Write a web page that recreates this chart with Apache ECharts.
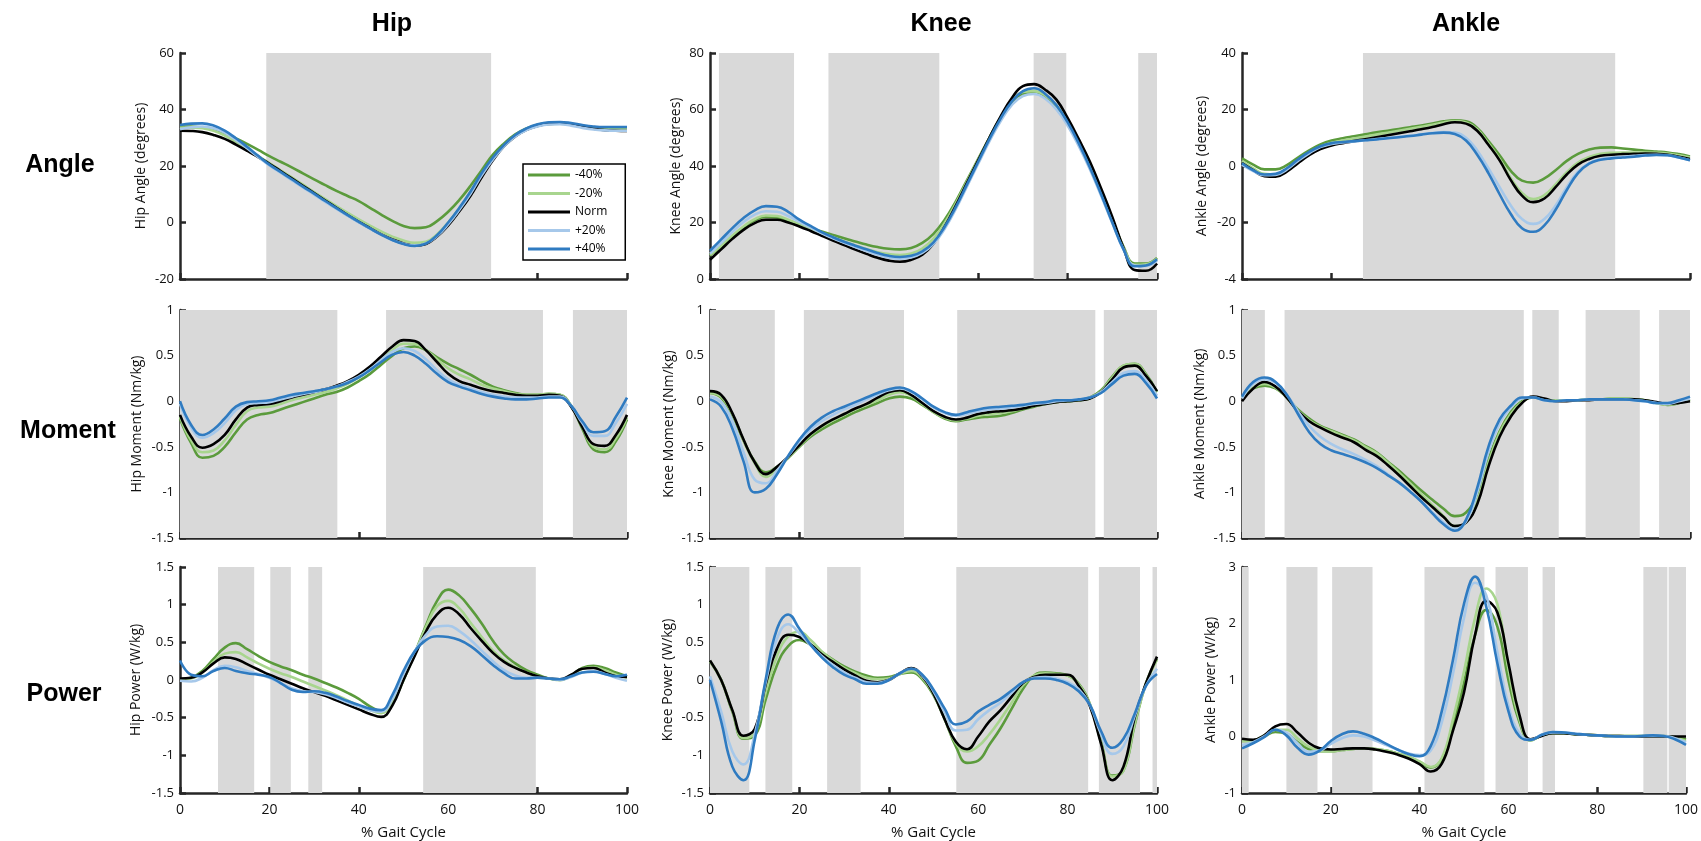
<!DOCTYPE html>
<html><head><meta charset="utf-8">
<script src="https://cdn.jsdelivr.net/npm/echarts@6/dist/echarts.min.js"></script>
<style>html,body{margin:0;padding:0;background:#fff}#c{width:1701px;height:841px}</style>
</head><body><div id="c"></div>
<script>
// % gait cycle sample points
const gait = [0,2.5,5,7.5,10,12.5,15,17.5,20,22.5,25,27.5,30,32.5,35,37.5,40,42.5,45,47.5,50,52.5,55,57.5,60,62.5,65,67.5,70,72.5,75,77.5,80,82.5,85,87.5,90,92.5,95,97.5,100];
const seriesNames = ['-40%','-20%','Norm','+20%','+40%'];
const columnTitles = ['Hip','Knee','Ankle'];
const rowTitles = ['Angle','Moment','Power'];
const xTicks = [0,20,40,60,80,100];

// Hip angle
const hipAngleM40 = [34,34,33.6,32.8,31.5,29.8,27.8,25.7,23.5,21.5,19.5,17.4,15.3,13.2,11.2,9.4,7.6,5.2,2.8,0.6,-1.2,-2,-1.7,0.5,3.8,8,13,18.5,24,28,31.2,33.3,34.6,35.2,35.3,34.8,34,33.4,33.1,33,33];
const hipAngleM20 = [33.5,33.6,33.4,32.5,30.8,28.5,26,23.5,21,18.5,16,13.4,10.8,8.3,5.8,3.4,1.1,-1.1,-3.2,-5,-6.4,-7.2,-6.8,-4.2,0,5,10.8,17,22.6,27.3,30.7,32.9,34.2,34.9,35,34.6,33.9,33.3,33,32.9,32.9];
const hipAngleNorm = [32.5,32.4,32,31,29.6,27.6,25.4,23.1,20.8,18.2,15.6,13,10.4,7.8,5.2,2.6,0.2,-2,-4.2,-6,-7.4,-8.2,-7.6,-5,-1,4,9.5,16,22,27,30.5,32.8,34.2,34.9,35.1,34.7,34,33.2,32.7,32.5,32.4];
const hipAngleP20 = [33,33.7,34,33.4,31.8,29.2,26.3,23.2,20.2,17.6,15,12.4,9.9,7.3,4.8,2.4,0,-2.2,-4.3,-6.2,-7.5,-8.1,-7.4,-4.8,-0.6,4.5,10.2,16.7,22.3,27,30.5,32.7,34,34.7,34.8,34.3,33.5,32.9,32.6,32.5,32.5];
const hipAngleP40 = [34.5,35,35.1,34.3,32.5,29.8,26.8,23.6,20.5,17.9,15.3,12.7,10.2,7.6,5.1,2.6,0.2,-2.1,-4.3,-6.2,-7.6,-8.3,-7.5,-4.5,0,5.2,11,17.5,23,27.5,31,33.3,34.8,35.5,35.6,35.2,34.5,34,33.8,33.8,33.8];
const hipAngleShade = [[19.3,69.6]];

// Knee angle
const kneeAngleM40 = [8.3,11.5,15,18.2,20.8,22,21.8,20.6,19.3,18,16.8,15.6,14.4,13.3,12.2,11.3,10.7,10.5,11,12.8,16,21,27.5,35,42.5,50,57,62.5,65.5,66,64.5,61,55.5,48.5,40.5,31,21,11.5,5.5,5.5,7.5];
const kneeAngleM20 = [8.5,11.8,15.4,18.6,21.2,22.5,22.3,21,19.4,17.9,16.3,14.8,13.3,11.9,10.6,9.5,8.8,8.5,9,10.8,14.3,19.8,26.8,34.5,42.3,50,57.2,63,66.2,66.5,65,61.5,56,48.8,40.6,31,21,11.2,5,5.2,7.2];
const kneeAngleNorm = [6.8,10.5,14.2,17.4,19.8,21,21,20,18.6,17,15.3,13.6,12,10.4,8.9,7.5,6.5,6.1,6.8,8.6,12.5,18.5,26,34,42,50,57.5,64,68.3,69,67,63.5,57,49.5,41.5,32,22,11,3.2,2.9,5.5];
const kneeAngleP20 = [9,12.8,16.7,20.2,22.8,24,23.8,22.3,20.2,18.2,16.2,14.4,12.8,11.3,9.9,8.6,7.6,7.2,7.6,9.2,12.4,17.8,24.8,32.8,40.8,48.7,55.8,61.5,64.8,65.5,63.8,60,54.3,47,38.8,29.5,19.8,10.6,4.8,4.6,6.5];
const kneeAngleP40 = [10,14,18,21.6,24.3,25.8,25.6,23.8,21,18.8,16.6,14.8,13.2,11.8,10.5,9.2,8.2,7.8,8.2,9.8,13,18.5,25.5,33.5,41.5,49.5,56.8,62.8,66.5,67.5,65.5,61.5,55.5,48,39.5,30,20,10.5,4.5,4.8,7];
const kneeAngleShade = [[2.0,18.8],[26.5,51.3],[72.4,79.7],[95.8,100]];

// Ankle angle
const ankleAngleM40 = [2.7,0.5,-1.2,-1.2,0.3,3,5.5,7.6,9,9.8,10.5,11.2,11.9,12.5,13.1,13.7,14.3,15,15.8,16.2,15.8,13.5,8.8,3.8,-1.7,-5.2,-5.9,-4.4,-1.5,1.8,4.3,5.8,6.5,6.6,6.2,5.8,5.4,5.1,4.8,4.2,3.4];
const ankleAngleM20 = [1.8,-0.8,-2.8,-3,-1.2,1.8,4.5,6.8,8.2,9,9.7,10.4,11.1,11.8,12.5,13.2,13.9,14.6,15.4,15.9,15.4,13,8,2.5,-4.3,-9.5,-11.7,-10.3,-6.5,-2.2,1.2,3.2,4.3,4.7,4.8,4.8,4.8,4.7,4.4,3.8,3];
const ankleAngleNorm = [1,-1.5,-3.6,-3.8,-2,1,3.8,6,7.3,8.1,8.8,9.5,10.2,10.9,11.6,12.3,13,13.8,14.8,15.5,15,12.5,7.5,2,-5,-10.5,-12.8,-11.5,-7.5,-3,0.5,2.5,3.6,4,4.2,4.3,4.4,4.3,4,3.3,2.5];
const ankleAngleP20 = [0.5,-1.8,-3.3,-3.2,-1.3,1.8,4.5,6.7,7.8,8.3,8.7,9.1,9.5,9.9,10.3,10.7,11.2,11.7,12,11.8,10,5.5,-0.8,-7.5,-14,-18.8,-20.5,-18.8,-14,-7.5,-2,1,2.4,3,3.3,3.6,3.9,4,3.8,3,2];
const ankleAngleP40 = [1,-1.5,-3,-2.8,-0.8,2.3,5,7,8.1,8.5,8.8,9.1,9.4,9.8,10.2,10.6,11.1,11.6,11.8,11.3,9,4,-2.5,-10,-17,-22,-23.3,-21,-15.5,-8.5,-2.5,0.8,2.2,2.7,3,3.3,3.7,3.9,3.8,3,2];
const ankleAngleShade = [[27.0,83.3]];

// Hip moment
const hipMomentM40 = [-0.19,-0.46,-0.62,-0.6,-0.5,-0.34,-0.2,-0.15,-0.13,-0.09,-0.05,-0.01,0.03,0.07,0.1,0.15,0.22,0.3,0.4,0.5,0.58,0.6,0.56,0.48,0.41,0.35,0.29,0.22,0.16,0.12,0.09,0.07,0.07,0.08,0.07,-0.05,-0.3,-0.53,-0.56,-0.44,-0.2];
const hipMomentM20 = [-0.17,-0.43,-0.56,-0.54,-0.43,-0.26,-0.11,-0.07,-0.06,-0.03,0.01,0.04,0.07,0.1,0.14,0.19,0.26,0.35,0.45,0.56,0.63,0.63,0.56,0.46,0.36,0.29,0.24,0.18,0.14,0.11,0.08,0.07,0.07,0.08,0.07,-0.05,-0.28,-0.5,-0.53,-0.41,-0.18];
const hipMomentNorm = [-0.15,-0.39,-0.51,-0.47,-0.37,-0.2,-0.07,-0.04,-0.03,0,0.04,0.07,0.1,0.13,0.17,0.22,0.29,0.38,0.49,0.6,0.67,0.66,0.56,0.43,0.3,0.22,0.18,0.14,0.11,0.09,0.07,0.06,0.06,0.07,0.06,-0.06,-0.28,-0.47,-0.49,-0.37,-0.15];
const hipMomentP20 = [-0.03,-0.29,-0.4,-0.35,-0.24,-0.1,-0.03,-0.02,-0.01,0.02,0.05,0.08,0.1,0.13,0.16,0.21,0.27,0.35,0.45,0.54,0.58,0.55,0.46,0.34,0.24,0.18,0.14,0.1,0.07,0.05,0.04,0.04,0.04,0.05,0.05,-0.05,-0.24,-0.38,-0.38,-0.24,-0.03];
const hipMomentP40 = [0,-0.26,-0.37,-0.31,-0.19,-0.06,-0.01,0,0.01,0.04,0.07,0.09,0.11,0.13,0.16,0.2,0.26,0.34,0.43,0.51,0.54,0.5,0.41,0.3,0.21,0.16,0.12,0.08,0.05,0.03,0.02,0.02,0.03,0.04,0.04,-0.05,-0.22,-0.34,-0.33,-0.17,0.04];
const hipMomentShade = [[0,35.2],[46.1,81.2],[87.9,100]];

// Knee moment
const kneeMomentM40 = [0.09,0.04,-0.15,-0.43,-0.66,-0.78,-0.72,-0.62,-0.5,-0.39,-0.31,-0.24,-0.18,-0.12,-0.07,-0.02,0.03,0.05,0.03,-0.04,-0.12,-0.19,-0.22,-0.2,-0.18,-0.17,-0.16,-0.13,-0.09,-0.06,-0.03,-0.01,0,0.01,0.04,0.12,0.27,0.39,0.41,0.3,0.1];
const kneeMomentM20 = [0.09,0.05,-0.14,-0.43,-0.68,-0.83,-0.74,-0.62,-0.49,-0.37,-0.28,-0.21,-0.15,-0.09,-0.04,0.01,0.07,0.1,0.06,-0.03,-0.12,-0.18,-0.21,-0.19,-0.16,-0.14,-0.13,-0.11,-0.08,-0.05,-0.03,-0.01,0,0.01,0.03,0.11,0.26,0.39,0.41,0.29,0.1];
const kneeMomentNorm = [0.11,0.07,-0.13,-0.42,-0.67,-0.8,-0.72,-0.61,-0.48,-0.36,-0.27,-0.2,-0.14,-0.08,-0.03,0.04,0.1,0.12,0.07,-0.02,-0.11,-0.17,-0.2,-0.18,-0.14,-0.12,-0.11,-0.1,-0.08,-0.05,-0.03,-0.01,0,0.01,0.03,0.1,0.24,0.37,0.39,0.28,0.11];
const kneeMomentP20 = [0.05,-0.01,-0.22,-0.56,-0.86,-0.9,-0.76,-0.6,-0.44,-0.31,-0.22,-0.15,-0.09,-0.04,0.02,0.07,0.12,0.14,0.1,0.02,-0.07,-0.13,-0.16,-0.14,-0.11,-0.09,-0.08,-0.07,-0.05,-0.03,-0.02,0,0.01,0.02,0.04,0.1,0.21,0.31,0.33,0.23,0.06];
const kneeMomentP40 = [0.02,-0.06,-0.3,-0.66,-1,-0.96,-0.8,-0.6,-0.42,-0.28,-0.18,-0.11,-0.06,-0.01,0.04,0.09,0.13,0.15,0.11,0.03,-0.06,-0.12,-0.15,-0.12,-0.09,-0.07,-0.06,-0.05,-0.04,-0.02,-0.01,0.01,0.01,0.02,0.04,0.09,0.19,0.28,0.3,0.2,0.03];
const kneeMomentShade = [[0,14.5],[21.0,43.4],[55.3,86.2],[88.1,100]];

// Ankle moment
const ankleMomentM40 = [0.05,0.14,0.17,0.14,0.04,-0.09,-0.19,-0.27,-0.32,-0.37,-0.42,-0.49,-0.56,-0.66,-0.76,-0.87,-0.98,-1.08,-1.18,-1.26,-1.22,-1.02,-0.64,-0.33,-0.12,0,0.04,0.02,0.01,0.01,0.01,0.02,0.02,0.03,0.03,0.02,0.01,-0.02,-0.04,-0.02,0.02];
const ankleMomentM20 = [0.04,0.15,0.19,0.15,0.04,-0.1,-0.21,-0.28,-0.33,-0.38,-0.43,-0.5,-0.57,-0.67,-0.78,-0.9,-1.02,-1.14,-1.26,-1.37,-1.33,-1.1,-0.68,-0.35,-0.14,-0.01,0.04,0.02,0.01,0.01,0.01,0.02,0.02,0.03,0.03,0.02,0.01,-0.02,-0.04,-0.02,0.01];
const ankleMomentNorm = [0,0.14,0.21,0.16,0.04,-0.11,-0.22,-0.29,-0.35,-0.4,-0.45,-0.53,-0.6,-0.7,-0.81,-0.93,-1.05,-1.16,-1.27,-1.37,-1.33,-1.13,-0.72,-0.39,-0.17,-0.02,0.05,0.03,0,0,0.01,0.01,0.02,0.02,0.02,0.02,0.01,-0.01,-0.03,-0.02,0];
const ankleMomentP20 = [0.03,0.19,0.24,0.2,0.07,-0.11,-0.27,-0.39,-0.47,-0.53,-0.58,-0.64,-0.71,-0.8,-0.89,-0.99,-1.1,-1.22,-1.33,-1.4,-1.32,-1,-0.56,-0.24,-0.07,0.03,0.04,0.01,0,0.01,0.01,0.02,0.02,0.02,0.02,0.01,0,-0.02,-0.03,0,0.03];
const ankleMomentP40 = [0.05,0.21,0.26,0.21,0.07,-0.14,-0.34,-0.47,-0.54,-0.58,-0.62,-0.67,-0.73,-0.81,-0.89,-0.99,-1.1,-1.23,-1.35,-1.42,-1.3,-0.95,-0.5,-0.2,-0.05,0.04,0.04,0.01,0,0.01,0.01,0.02,0.02,0.02,0.02,0.01,0,-0.02,-0.02,0.01,0.05];
const ankleMomentShade = [[0,5.1],[9.5,62.9],[64.8,70.7],[76.7,88.8],[93.1,100]];

// Hip power
const hipPowerM40 = [0,0.03,0.12,0.28,0.43,0.49,0.41,0.32,0.24,0.18,0.13,0.07,0.02,-0.04,-0.1,-0.17,-0.25,-0.35,-0.41,-0.3,0,0.35,0.72,1.05,1.2,1.12,0.95,0.75,0.52,0.34,0.22,0.13,0.07,0.02,0,0.06,0.16,0.19,0.16,0.1,0.05];
const hipPowerM20 = [0.01,0.02,0.1,0.24,0.35,0.37,0.3,0.22,0.15,0.09,0.04,-0.02,-0.08,-0.14,-0.2,-0.27,-0.34,-0.4,-0.44,-0.3,0,0.34,0.7,0.98,1.05,0.95,0.76,0.57,0.39,0.26,0.17,0.1,0.05,0.02,0,0.06,0.15,0.17,0.13,0.07,0.03];
const hipPowerNorm = [0.02,0.03,0.1,0.22,0.3,0.28,0.21,0.14,0.07,0.01,-0.05,-0.11,-0.16,-0.21,-0.27,-0.33,-0.39,-0.45,-0.49,-0.34,0,0.32,0.64,0.87,0.96,0.87,0.69,0.52,0.36,0.24,0.16,0.1,0.05,0.02,0.01,0.07,0.15,0.16,0.1,0.05,0.04];
const hipPowerP20 = [-0.01,-0.02,0.03,0.13,0.19,0.17,0.12,0.08,0.03,-0.04,-0.11,-0.15,-0.16,-0.19,-0.24,-0.3,-0.35,-0.4,-0.42,-0.25,0.08,0.38,0.6,0.71,0.72,0.65,0.53,0.39,0.25,0.13,0.06,0.03,0.03,0.02,0,0.04,0.1,0.12,0.08,0.03,-0.01];
const hipPowerP40 = [0.26,0.07,0.05,0.12,0.16,0.12,0.09,0.07,0.04,-0.04,-0.13,-0.16,-0.15,-0.17,-0.22,-0.28,-0.33,-0.38,-0.4,-0.2,0.12,0.38,0.53,0.58,0.57,0.53,0.45,0.33,0.2,0.09,0.02,0.02,0.03,0.02,0.01,0.05,0.1,0.11,0.08,0.05,0.07];
const hipPowerShade = [[8.5,16.6],[20.2,24.8],[28.7,31.8],[54.4,79.6]];

// Knee power
const kneePowerM40 = [0.25,0,-0.42,-0.78,-0.74,-0.25,0.2,0.45,0.53,0.47,0.37,0.27,0.18,0.11,0.06,0.03,0.04,0.08,0.1,0.01,-0.2,-0.52,-0.88,-1.1,-1.07,-0.86,-0.64,-0.38,-0.12,0.06,0.1,0.09,0.06,-0.05,-0.32,-0.82,-1.27,-1.2,-0.6,-0.05,0.28];
const kneePowerM20 = [0.25,0,-0.41,-0.77,-0.7,-0.15,0.32,0.58,0.64,0.53,0.38,0.26,0.16,0.09,0.03,0.01,0.02,0.08,0.12,0.03,-0.19,-0.52,-0.84,-0.95,-0.88,-0.72,-0.52,-0.3,-0.07,0.06,0.09,0.08,0.06,-0.06,-0.33,-0.83,-1.28,-1.2,-0.58,-0.06,0.27];
const kneePowerNorm = [0.26,0,-0.4,-0.74,-0.65,-0.05,0.42,0.6,0.57,0.47,0.34,0.24,0.14,0.06,-0.01,-0.03,0,0.09,0.16,0.05,-0.18,-0.52,-0.82,-0.92,-0.75,-0.55,-0.4,-0.22,-0.04,0.04,0.07,0.07,0.07,-0.08,-0.35,-0.85,-1.33,-1.15,-0.5,-0.05,0.31];
const kneePowerP20 = [0.05,-0.42,-0.95,-1.12,-0.72,-0.02,0.55,0.74,0.62,0.46,0.32,0.2,0.1,0.03,-0.03,-0.04,0,0.09,0.15,0.06,-0.15,-0.43,-0.67,-0.66,-0.52,-0.4,-0.3,-0.17,-0.03,0.03,0.04,0.02,-0.03,-0.12,-0.33,-0.72,-0.98,-0.88,-0.48,-0.08,0.15];
const kneePowerP40 = [0,-0.55,-1.15,-1.33,-0.8,0.02,0.68,0.87,0.68,0.47,0.3,0.17,0.07,0.01,-0.05,-0.05,0,0.09,0.15,0.07,-0.13,-0.38,-0.59,-0.55,-0.42,-0.33,-0.25,-0.14,-0.03,0.02,0.02,0,-0.05,-0.15,-0.33,-0.68,-0.9,-0.78,-0.45,-0.08,0.08];
const kneePowerShade = [[0,8.8],[12.4,18.4],[26.2,33.7],[55.1,84.6],[87.0,96.2],[99.0,100]];

// Ankle power
const anklePowerM40 = [-0.08,-0.08,0,0.08,0.05,-0.1,-0.22,-0.26,-0.26,-0.24,-0.22,-0.21,-0.22,-0.25,-0.3,-0.36,-0.45,-0.55,-0.4,0.2,0.95,1.8,2.24,1.95,1,0.25,-0.07,0.02,0.06,0.06,0.04,0.03,0.02,0.01,0.01,0.01,0.01,0.01,0.01,-0.01,-0.05];
const anklePowerM20 = [-0.08,-0.07,0.02,0.12,0.12,-0.03,-0.18,-0.25,-0.26,-0.24,-0.22,-0.21,-0.22,-0.25,-0.3,-0.36,-0.44,-0.54,-0.38,0.3,1.15,2.1,2.62,2.35,1.2,0.3,-0.07,0.02,0.06,0.06,0.04,0.03,0.02,0.01,0.01,0.01,0.01,0.01,0,-0.02,-0.08];
const anklePowerNorm = [-0.04,-0.06,0.02,0.18,0.22,0.07,-0.11,-0.21,-0.23,-0.22,-0.21,-0.21,-0.23,-0.27,-0.32,-0.39,-0.49,-0.62,-0.48,0.1,0.78,1.8,2.4,2.2,1.3,0.38,-0.05,0.01,0.06,0.06,0.04,0.03,0.02,0.01,0.01,0,0,0,0,0,0];
const anklePowerP20 = [-0.15,-0.1,0,0.12,0.07,-0.12,-0.27,-0.25,-0.13,-0.03,0.02,0,-0.07,-0.15,-0.23,-0.3,-0.33,-0.25,0.25,1.1,2.1,2.72,2.5,1.5,0.55,0.05,-0.06,0.03,0.07,0.07,0.05,0.03,0.02,0.01,0,0,0.01,0.01,0.01,-0.03,-0.1];
const anklePowerP40 = [-0.21,-0.12,-0.01,0.12,0.02,-0.2,-0.32,-0.25,-0.08,0.04,0.09,0.05,-0.03,-0.13,-0.23,-0.31,-0.35,-0.17,0.45,1.35,2.35,2.83,2.3,1.3,0.45,0,-0.06,0.03,0.08,0.07,0.05,0.03,0.02,0.01,0,0,0.01,0.02,0.01,-0.05,-0.15];
const anklePowerShade = [[0,1.5],[10.0,17.0],[20.3,29.4],[41.1,54.6],[57.1,64.4],[67.7,70.5],[90.4,95.8],[96.1,100]];

// ---------- build ----------
const seriesColors = ['#5b9b3c','#a8d58e','#000000','#a6c8ea','#2f7bc1'];
const panels = [
  {row:0,col:0,name:'Hip Angle (degrees)',min:-20,max:60,interval:20,lines:[hipAngleM40,hipAngleM20,hipAngleNorm,hipAngleP20,hipAngleP40],shade:hipAngleShade,gap:32},
  {row:0,col:1,name:'Knee Angle (degrees)',min:0,max:80,interval:20,lines:[kneeAngleM40,kneeAngleM20,kneeAngleNorm,kneeAngleP20,kneeAngleP40],shade:kneeAngleShade,gap:27},
  {row:0,col:2,name:'Ankle Angle (degrees)',min:-40,max:40,interval:20,lines:[ankleAngleM40,ankleAngleM20,ankleAngleNorm,ankleAngleP20,ankleAngleP40],shade:ankleAngleShade,gap:33},
  {row:1,col:0,name:'Hip Moment (Nm/kg)',min:-1.5,max:1,interval:0.5,lines:[hipMomentM40,hipMomentM20,hipMomentNorm,hipMomentP20,hipMomentP40],shade:hipMomentShade,gap:36},
  {row:1,col:1,name:'Knee Moment (Nm/kg)',min:-1.5,max:1,interval:0.5,lines:[kneeMomentM40,kneeMomentM20,kneeMomentNorm,kneeMomentP20,kneeMomentP40],shade:kneeMomentShade,gap:34},
  {row:1,col:2,name:'Ankle Moment (Nm/kg)',min:-1.5,max:1,interval:0.5,lines:[ankleMomentM40,ankleMomentM20,ankleMomentNorm,ankleMomentP20,ankleMomentP40],shade:ankleMomentShade,gap:35},
  {row:2,col:0,name:'Hip Power (W/kg)',min:-1.5,max:1.5,interval:0.5,lines:[hipPowerM40,hipPowerM20,hipPowerNorm,hipPowerP20,hipPowerP40],shade:hipPowerShade,gap:37},
  {row:2,col:1,name:'Knee Power (W/kg)',min:-1.5,max:1.5,interval:0.5,lines:[kneePowerM40,kneePowerM20,kneePowerNorm,kneePowerP20,kneePowerP40],shade:kneePowerShade,gap:35},
  {row:2,col:2,name:'Ankle Power (W/kg)',min:-1,max:3,interval:1,lines:[anklePowerM40,anklePowerM20,anklePowerNorm,anklePowerP20,anklePowerP40],shade:anklePowerShade,gap:24}
];
const colLeft = [180,710,1242], colWidth = [447,447,448];
const rowTop = [53,310,567], rowHeight = [226,228,228];
const colTitleX = [392,941,1466];
const rowTitleY = [165,431,694], rowTitleX = [60,68,64];
const axisCol = '#262626';
const fontFam = '"Open Sans", "Noto Sans", sans-serif';

const grid = [], xAxis = [], yAxis = [], series = [];
panels.forEach((p, i) => {
  grid.push({left: colLeft[p.col], top: rowTop[p.row], width: colWidth[p.col], height: rowHeight[p.row], containLabel: false});
  const bottom = p.row === 2;
  xAxis.push({
    type:'value', gridIndex:i, min:0, max:100, interval:20,
    axisLine:{show:true, onZero:false, lineStyle:{color:axisCol, width:2.5}},
    axisTick:{show:true, inside:true, length:6, lineStyle:{color:axisCol, width:2.5}},
    splitLine:{show:false},
    axisLabel:{show:bottom, color:'#111', fontSize:14, fontFamily:fontFam, margin:10},
    name: bottom ? '% Gait Cycle' : '', nameLocation:'middle', nameGap:32,
    nameTextStyle:{color:'#111', fontSize:15, fontFamily:fontFam}
  });
  yAxis.push({
    type:'value', gridIndex:i, min:p.min, max:p.max, interval:p.interval,
    axisLine:{show:true, onZero:false, lineStyle:{color:axisCol, width:2.5}},
    axisTick:{show:true, inside:true, length:6, lineStyle:{color:axisCol, width:2.5}},
    splitLine:{show:false},
    axisLabel:{color:'#111', fontSize:13, fontFamily:fontFam, margin:6,
      formatter: v => (p.name.startsWith('Ankle Angle') && v === -40) ? '-4' : String(v)},
    name:p.name, nameLocation:'middle', nameGap:p.gap,
    nameTextStyle:{color:'#111', fontSize:14, fontFamily:fontFam}
  });
  series.push({
    type:'line', xAxisIndex:i, yAxisIndex:i, data:[], silent:true, z:1,
    markArea:{silent:true, itemStyle:{color:'#d9d9d9'},
      data: p.shade.map(s => [{xAxis:s[0]}, {xAxis:s[1]}])}
  });
  p.lines.forEach((arr, k) => {
    series.push({
      name: seriesNames[k], type:'line', xAxisIndex:i, yAxisIndex:i,
      data: gait.map((g, j) => [g, arr[j]]),
      smooth:0.45, showSymbol:false, symbol:'none', z:2+k,
      lineStyle:{color:seriesColors[k], width:2.6},
      itemStyle:{color:seriesColors[k]},
      animation:false, silent:true
    });
  });
});

const graphic = [];
columnTitles.forEach((t, c) => graphic.push({type:'text', x:colTitleX[c], y:24,
  style:{text:t, font:'bold 25px "Liberation Sans", Arial, sans-serif', fill:'#000', align:'center', verticalAlign:'middle', textAlign:'center', textVerticalAlign:'middle'}}));
rowTitles.forEach((t, r) => graphic.push({type:'text', x:rowTitleX[r], y:rowTitleY[r],
  style:{text:t, font:'bold 25px "Liberation Sans", Arial, sans-serif', fill:'#000', align:'center', verticalAlign:'middle', textAlign:'center', textVerticalAlign:'middle'}}));

const chart = echarts.init(document.getElementById('c'));
chart.setOption({
  animation:false,
  backgroundColor:'#fff',
  grid, xAxis, yAxis, series, graphic,
  legend:{
    data:seriesNames, left:523, top:164, orient:'vertical', icon:'rect',
    itemWidth:42, itemHeight:3, itemGap:6.5, padding:[5,18,5,5],
    borderColor:'#000', borderWidth:1.5, backgroundColor:'#fff', selectedMode:false,
    textStyle:{fontSize:12, fontFamily:fontFam, color:'#000'}, z:20
  }
});
</script></body></html>
